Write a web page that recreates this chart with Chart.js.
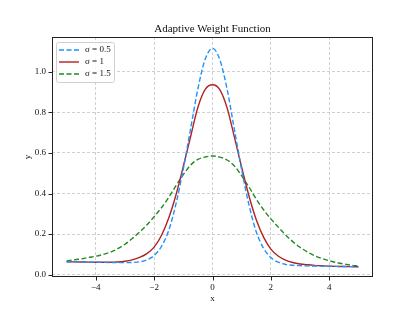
<!DOCTYPE html>
<html>
<head>
<meta charset="utf-8">
<script src="https://cdn.jsdelivr.net/npm/chart.js@4/dist/chart.umd.min.js"></script>
<style>
  html, body { margin: 0; padding: 0; background: #fff; }
  canvas { display: block; }
</style>
</head>
<body>
<canvas id="chart" width="415" height="312"></canvas>
<script>
// x samples and curve values
const xs = [-5, -4.75, -4.5, -4.25, -4, -3.75, -3.5, -3.25, -3, -2.75, -2.5, -2.25, -2, -1.75, -1.5, -1.25, -1, -0.75, -0.5, -0.25,
    0, 0.25, 0.5, 0.75, 1, 1.25, 1.5, 1.75, 2, 2.25, 2.5, 2.75, 3, 3.25, 3.5, 3.75, 4, 4.25, 4.5, 4.75, 5];

const sigmaHalf = [0.064, 0.0634, 0.0628, 0.0621, 0.0615, 0.0609, 0.0603, 0.0597, 0.0596, 0.0603, 0.0636, 0.0728, 0.0945, 0.139, 0.218, 0.350, 0.522, 0.719, 0.916, 1.062,
    1.115, 1.060, 0.914, 0.715, 0.517, 0.344, 0.211, 0.130, 0.0845, 0.0616, 0.0511, 0.0465, 0.0446, 0.0434, 0.0428, 0.0421, 0.0415, 0.0409, 0.0403, 0.0396, 0.039];

const sigmaOne = [0.064, 0.0634, 0.0628, 0.0622, 0.0617, 0.0613, 0.0612, 0.0625, 0.066, 0.073, 0.085, 0.104, 0.136, 0.193, 0.279, 0.394, 0.533, 0.681, 0.825, 0.913,
    0.936, 0.912, 0.822, 0.678, 0.528, 0.388, 0.271, 0.185, 0.126, 0.092, 0.072, 0.060, 0.053, 0.049, 0.046, 0.044, 0.042, 0.041, 0.0405, 0.040, 0.039];

const sigmaOneHalf = [0.068, 0.073, 0.078, 0.085, 0.091, 0.100, 0.111, 0.128, 0.150, 0.178, 0.210, 0.245, 0.286, 0.330, 0.381, 0.439, 0.493, 0.540, 0.568, 0.580,
    0.585, 0.579, 0.565, 0.536, 0.487, 0.432, 0.372, 0.320, 0.275, 0.235, 0.197, 0.163, 0.135, 0.112, 0.094, 0.080, 0.069, 0.060, 0.053, 0.047, 0.043];

const seriesLabels = ['σ = 0.5', 'σ = 1', 'σ = 1.5'];
const xTicks = [-4, -2, 0, 2, 4];
const yTicks = [0, 0.2, 0.4, 0.6, 0.8, 1.0];

const FONT = '"Liberation Serif", "DejaVu Serif", serif';

function toPoints(values) {
    return xs.map((x, i) => ({ x: x, y: values[i] }));
}

// frame, outward tick marks and the boxed legend in the top-left corner
const framePlugin = {
    id: 'frame',
    afterDatasetsDraw(chart) {
        const { ctx, chartArea: a, scales } = chart;
        ctx.save();
        ctx.strokeStyle = '#222';
        ctx.lineWidth = 1;
        ctx.setLineDash([]);
        ctx.strokeRect(a.left + 0.5, a.top + 0.5, a.right - a.left - 1, a.bottom - a.top - 1);

        ctx.beginPath();
        xTicks.forEach(v => {
            const px = Math.round(scales.x.getPixelForValue(v)) + 0.5;
            ctx.moveTo(px, a.bottom);
            ctx.lineTo(px, a.bottom + 3.5);
        });
        yTicks.forEach(v => {
            const py = Math.round(scales.y.getPixelForValue(v)) + 0.5;
            ctx.moveTo(a.left - 3.5, py);
            ctx.lineTo(a.left, py);
        });
        ctx.stroke();

        // legend
        const bx = a.left + 4, by = a.top + 5, bw = 58, bh = 40;
        ctx.fillStyle = 'rgba(255,255,255,0.85)';
        ctx.strokeStyle = '#d0d0d0';
        ctx.lineWidth = 1;
        ctx.beginPath();
        ctx.roundRect(bx + 0.5, by + 0.5, bw, bh, 2);
        ctx.fill();
        ctx.stroke();

        ctx.font = '9px ' + FONT;
        ctx.textBaseline = 'middle';
        ctx.textAlign = 'left';
        chart.data.datasets.forEach((ds, i) => {
            const ry = by + 8 + i * 12;
            ctx.strokeStyle = ds.borderColor;
            ctx.lineWidth = ds.borderWidth;
            ctx.setLineDash(ds.borderDash || []);
            ctx.beginPath();
            ctx.moveTo(bx + 3, ry);
            ctx.lineTo(bx + 23, ry);
            ctx.stroke();
            ctx.fillStyle = '#111';
            ctx.fillText(ds.label, bx + 29, ry);
        });
        ctx.restore();
    }
};

const data = {
    datasets: [{
        label: seriesLabels[0],
        data: toPoints(sigmaHalf),
        borderColor: '#1e90ff',
        borderWidth: 1.4,
        borderDash: [5, 2.5],
    }, {
        label: seriesLabels[1],
        data: toPoints(sigmaOne),
        borderColor: '#b22222',
        borderWidth: 1.4,
    }, {
        label: seriesLabels[2],
        data: toPoints(sigmaOneHalf),
        borderColor: '#228b22',
        borderWidth: 1.4,
        borderDash: [5, 2.5],
    }],
};

const options = {
    responsive: false,
    animation: false,
    layout: { padding: { left: 0, right: 42, top: 0, bottom: 0 } },
    elements: {
        point: { radius: 0 },
        line: { cubicInterpolationMode: 'monotone', fill: false },
    },
    plugins: {
        legend: { display: false },
        tooltip: { enabled: false },
        title: {
            display: true,
            fullSize: false,
            text: 'Adaptive Weight Function',
            color: '#111',
            font: { family: FONT, size: 11, weight: 'normal' },
            padding: { top: 22.4, bottom: 1.4 },
        },
    },
    scales: {
        x: {
            type: 'linear',
            min: -5.5,
            max: 5.5,
            afterBuildTicks: s => { s.ticks = xTicks.map(v => ({ value: v })); },
            afterFit: s => { s.height = 35; },
            ticks: {
                color: '#111',
                font: { family: FONT, size: 9 },
                padding: 5,
                maxRotation: 0,
                callback: v => (v < 0 ? '\u2212' + Math.abs(v) : String(v)),
            },
            grid: { color: '#c4c4c4', lineWidth: 0.8, drawTicks: false },
            border: { display: false, dash: [3, 2] },
            title: {
                display: true,
                text: 'x',
                color: '#111',
                font: { family: FONT, size: 9 },
                padding: { top: 0, bottom: 7.6 },
            },
        },
        y: {
            type: 'linear',
            min: -0.0113,
            max: 1.171,
            afterBuildTicks: s => { s.ticks = yTicks.map(v => ({ value: v })); },
            afterFit: s => { s.width = 52; },
            ticks: {
                color: '#111',
                font: { family: FONT, size: 9 },
                padding: 6,
                callback: v => v.toFixed(1),
            },
            grid: { color: '#c4c4c4', lineWidth: 0.8, drawTicks: false },
            border: { display: false, dash: [3, 2] },
            title: {
                display: true,
                text: 'y',
                color: '#111',
                font: { family: FONT, size: 9 },
                padding: { top: 22.6, bottom: 0 },
            },
        },
    },
};

const chart = new Chart(document.getElementById('chart'), {
    type: 'line',
    data: data,
    options: options,
    plugins: [framePlugin],
});
</script>
</body>
</html>
